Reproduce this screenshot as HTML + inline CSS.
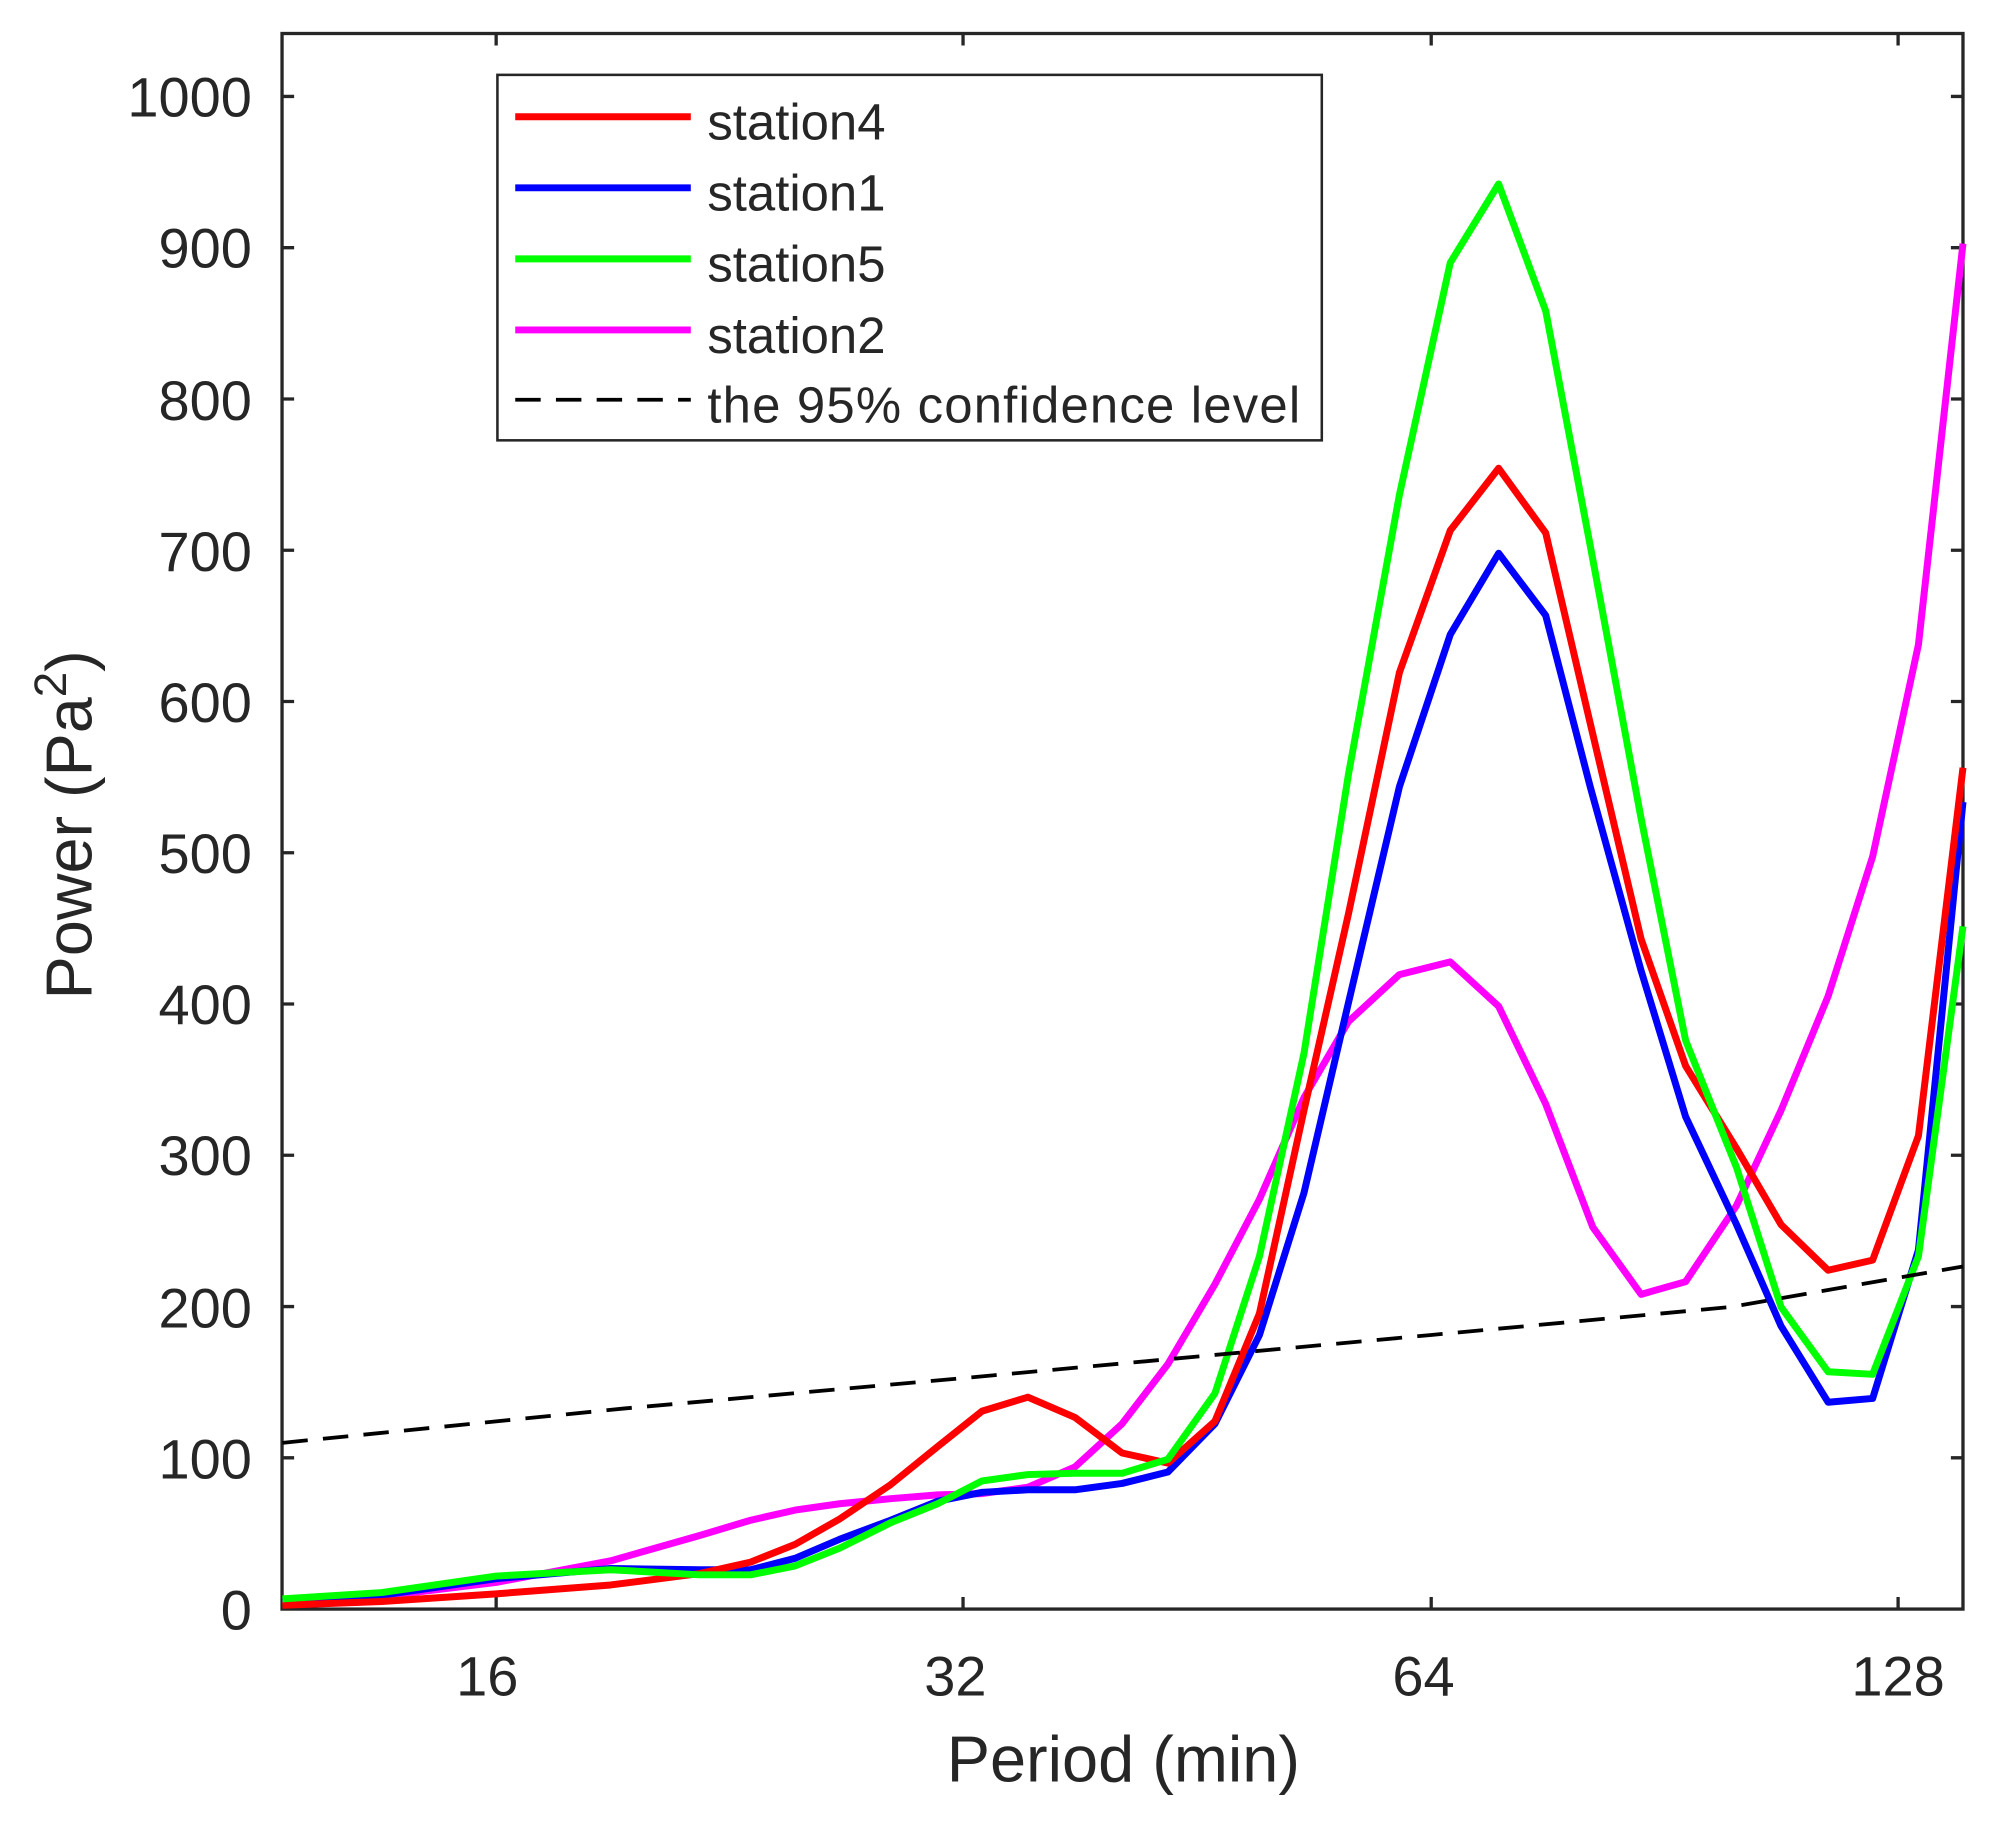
<!DOCTYPE html>
<html><head><meta charset="utf-8"><style>html,body{margin:0;padding:0;background:#fff}svg{display:block}</style></head>
<body>
<svg width="1993" height="1830" viewBox="0 0 1566.6 1442.1" preserveAspectRatio="none" xmlns="http://www.w3.org/2000/svg" font-family="Liberation Sans, Arial, sans-serif" fill="#262626">
<rect x="0" y="0" width="1566.6" height="1442.1" fill="#fff"/>
<g stroke="#262626" stroke-width="2.6" fill="none">
<rect x="221.7" y="26.4" width="1321.3" height="1241.6"/>
<path d="M221.7 1148.8h9.5M221.7 1029.6h9.5M221.7 910.4h9.5M221.7 791.2h9.5M221.7 672h9.5M221.7 552.8h9.5M221.7 433.6h9.5M221.7 314.4h9.5M221.7 195.2h9.5M221.7 76h9.5
M1543 1148.8h-9.5M1543 1029.6h-9.5M1543 910.4h-9.5M1543 791.2h-9.5M1543 672h-9.5M1543 552.8h-9.5M1543 433.6h-9.5M1543 314.4h-9.5M1543 195.2h-9.5M1543 76h-9.5
M390 1268v-9.5M757 1268v-9.5M1125 1268v-9.5M1492 1268v-9.5M390 26.4v9.5M757 26.4v9.5M1125 26.4v9.5M1492 26.4v9.5"/>
</g>
<g font-size="44" text-anchor="end">
<text x="198" y="1284">0</text><text x="198" y="1165">100</text><text x="198" y="1046">200</text><text x="198" y="926">300</text><text x="198" y="807">400</text><text x="198" y="688">500</text><text x="198" y="569">600</text><text x="198" y="450">700</text><text x="198" y="331">800</text><text x="198" y="211">900</text><text x="198" y="92">1000</text>
</g>
<g font-size="44" text-anchor="middle">
<text x="383" y="1336">16</text><text x="751" y="1336">32</text><text x="1119" y="1336">64</text><text x="1492" y="1336">128</text>
</g>
<text x="883" y="1404" font-size="51" text-anchor="middle">Period (min)</text>
<text transform="translate(72,650) rotate(-90)" font-size="51" text-anchor="middle">Power (Pa<tspan font-size="36" dy="-20">2</tspan><tspan dy="20">)</tspan></text>
<g fill="none" stroke-width="5.5" stroke-linejoin="round">
<polyline stroke="#ff00ff" points="222,1264 300,1258 390,1247 480,1230 550,1210 590,1198 625,1190 660,1185 700,1181 737,1178 772,1177 808,1172 845,1156 882,1122 918,1075 955,1012 990,945 1025,865 1060,805 1100,768 1140,758 1178,793 1215,870 1252,967 1290,1020 1325,1010 1365,950 1400,875 1437,785 1472,675 1508,508 1543,192"/>
<polyline stroke="#0000ff" points="222,1262 300,1257 390,1244 480,1236 550,1237 590,1237 625,1228 660,1213 700,1198 737,1183 772,1176 808,1174 845,1174 882,1169 918,1160 955,1122 990,1052 1025,940 1060,790 1100,620 1140,500 1178,436 1215,485 1250,620 1290,765 1325,880 1365,965 1400,1045 1437,1105 1472,1102 1508,985 1543,632"/>
<polyline stroke="#ff0000" points="222,1265 300,1262 390,1256 480,1249 550,1240 590,1231 625,1217 660,1197 700,1170 737,1140 772,1112 808,1101 845,1117 882,1145 918,1153 955,1120 990,1035 1025,875 1060,720 1100,530 1140,418 1178,369 1215,420 1250,570 1290,740 1325,840 1365,905 1400,965 1437,1001 1472,993 1508,895 1543,605"/>
<polyline stroke="#00ff00" points="222,1260 300,1255 390,1242 480,1237 550,1241 590,1241 625,1234 660,1220 700,1200 737,1185 772,1167 808,1162 845,1161 882,1161 918,1150 955,1098 990,990 1025,830 1060,610 1100,390 1140,207 1178,145 1215,245 1250,430 1290,645 1325,820 1365,920 1400,1030 1437,1081 1472,1083 1508,990 1543,730"/>
<polyline stroke="#000" stroke-width="3" stroke-dasharray="20,12" points="222,1137 490,1110 757,1086 1125,1052 1360,1030 1543,998"/>
</g>
<rect x="391" y="59" width="648" height="288" fill="#fff" stroke="#262626" stroke-width="2"/>
<g stroke-width="5.5">
<line x1="405" y1="92" x2="543" y2="92" stroke="#ff0000"/>
<line x1="405" y1="148" x2="543" y2="148" stroke="#0000ff"/>
<line x1="405" y1="204" x2="543" y2="204" stroke="#00ff00"/>
<line x1="405" y1="260" x2="543" y2="260" stroke="#ff00ff"/>
<line x1="405" y1="315" x2="543" y2="315" stroke="#000" stroke-width="3" stroke-dasharray="20,12"/>
</g>
<g font-size="40">
<text x="556" y="110">station4</text><text x="556" y="166">station1</text><text x="556" y="222">station5</text><text x="556" y="278">station2</text><text x="556" y="333" textLength="466">the 95% confidence level</text>
</g>
</svg>
</body></html>
